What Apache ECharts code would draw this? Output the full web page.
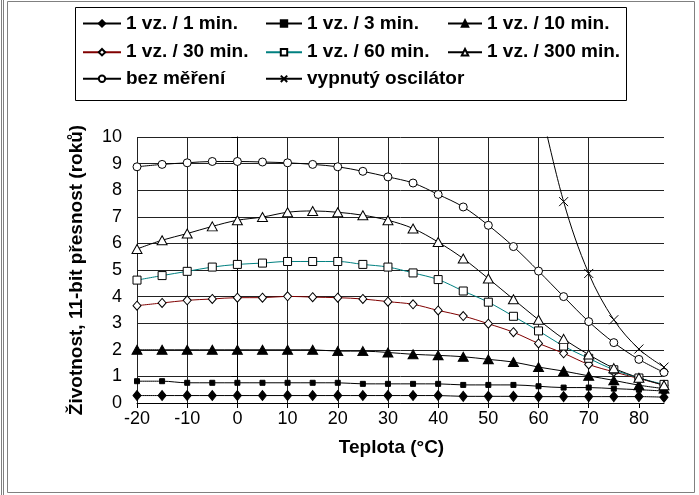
<!DOCTYPE html>
<html><head><meta charset="utf-8">
<script src="https://cdn.jsdelivr.net/npm/echarts@6/dist/echarts.min.js"></script>
<style>html,body{margin:0;padding:0;background:#fff}#c{width:699px;height:495px}</style>
</head><body><div id="c"></div>
<script>
// ---- data ----
const temps = [-20,-15,-10,-5,0,5,10,15,20,25,30,35,40,45,50,55,60,65,70,75,80,85];
const xTicks = [-20,-10,0,10,20,30,40,50,60,70,80];
const yTicks = [0,1,2,3,4,5,6,7,8,9,10];
const seriesNames = ['1 vz. / 1 min.','1 vz. / 3 min.','1 vz. / 10 min.','1 vz. / 30 min.','1 vz. / 60 min.','1 vz. / 300 min.','bez měření','vypnutý oscilátor'];
const v1min   = [0.28,0.28,0.28,0.28,0.28,0.28,0.28,0.28,0.28,0.28,0.28,0.28,0.28,0.25,0.25,0.25,0.24,0.24,0.24,0.24,0.24,0.22];
const v3min   = [0.82,0.82,0.76,0.76,0.76,0.76,0.76,0.76,0.76,0.72,0.72,0.72,0.72,0.68,0.68,0.68,0.63,0.58,0.58,0.54,0.50,0.45];
const v10min  = [2.0,2.0,2.0,2.0,2.0,2.0,2.0,2.0,1.95,1.95,1.9,1.83,1.79,1.74,1.64,1.54,1.35,1.2,1.02,0.85,0.67,0.54];
const v30min  = [3.66,3.76,3.86,3.91,3.96,3.96,4.01,3.98,3.96,3.91,3.81,3.71,3.48,3.27,2.98,2.66,2.24,1.87,1.45,1.17,0.92,0.67];
const v60min  = [4.62,4.79,4.95,5.11,5.21,5.26,5.32,5.32,5.32,5.21,5.11,4.89,4.64,4.21,3.79,3.26,2.71,2.14,1.68,1.25,0.94,0.70];
const v300min = [5.79,6.12,6.37,6.64,6.87,6.99,7.17,7.22,7.17,7.06,6.87,6.56,6.05,5.43,4.68,3.9,3.13,2.41,1.82,1.31,0.95,0.67];
const vBez    = [8.88,8.97,9.03,9.08,9.08,9.06,9.03,8.97,8.88,8.71,8.5,8.27,7.84,7.37,6.68,5.88,4.96,4.0,3.06,2.27,1.64,1.15];
const vVyp    = [null,null,null,null,null,null,null,null,null,null,null,null,null,null,null,null,11.5,7.57,4.87,3.13,2.03,1.35];

const FONT = '"Liberation Sans", Arial, sans-serif';
const pairs = arr => temps.map((t,i) => [t, arr[i]]);

function mkSeries(name, arr, symbol, size, lineColor, fill, z) {
  return {
    name, type:'line', data: pairs(arr), smooth: 0.35, symbol, symbolSize: size,
    showSymbol: true, clip: true, z: z,
    lineStyle: { color: lineColor, width: 1 },
    itemStyle: { color: fill, borderColor: '#000', borderWidth: 1 },
    emphasis: { disabled: true }, animation: false
  };
}
const xPath = 'path://M0,0L10,10M10,0L0,10';
const series = [
  mkSeries(seriesNames[0], v1min, 'diamond', [8,10], '#000', '#000', 2),
  mkSeries(seriesNames[1], v3min, 'rect', 5, '#000', '#000', 2),
  mkSeries(seriesNames[2], v10min, 'triangle', [10,9], '#000', '#000', 2),
  mkSeries(seriesNames[3], v30min, 'diamond', [8,9], '#800000', '#fff', 2),
  mkSeries(seriesNames[4], v60min, 'rect', 8, '#008080', '#fff', 2),
  mkSeries(seriesNames[5], v300min, 'triangle', [10,9], '#000', '#fff', 2),
  mkSeries(seriesNames[6], vBez, 'circle', 8, '#000', '#fff', 2),
  mkSeries(seriesNames[7], vVyp, xPath, 9, '#000', '#000', 2)
];

// legend item placement (icon left, row centre)
const legPos = [[82,24],[265,24],[447,24],[82,52.7],[265,52.7],[447,52.7],[82,79.3],[265,79.3]];
const legW = [38,36,34,38,36,34,38,36];
const legends = seriesNames.map((n,i) => ({
  data:[n], left: legPos[i][0], top: legPos[i][1]-10, padding: 0, itemWidth: legW[i], itemHeight: 8,
  selectedMode: false, orient:'horizontal',
  textStyle: { fontFamily: FONT, fontSize: 19, fontWeight: 'bold', color: '#000' }
}));

const gridCol = '#222';
const xSplitColors = xTicks.map(() => gridCol).concat(['rgba(0,0,0,0)']);

const chart = echarts.init(document.getElementById('c'), null, {renderer:'canvas'});
chart.setOption({
  animation: false,
  backgroundColor: '#fff',
  grid: { left: 137, right: 35, top: 137, bottom: 92, containLabel: false },
  legend: legends,
  xAxis: {
    type: 'value', min: xTicks[0], max: 85, interval: 10,
    name: 'Teplota (°C)', nameLocation: 'middle', nameGap: 35,
    nameTextStyle: { fontFamily: FONT, fontSize: 19, fontWeight: 'bold', color: '#000', padding: [0, 18, 0, 0] },
    axisLine: { show: true, onZero: false, lineStyle: { color: '#000', width: 1 } },
    axisTick: { show: true, length: 5, customValues: xTicks, lineStyle: { color: '#000' } },
    axisLabel: { customValues: xTicks, margin: 7, fontFamily: FONT, fontSize: 18, color: '#000',
      formatter: v => (xTicks.indexOf(v) >= 0 ? String(v) : '') },
    splitLine: { show: true, showMaxLine: false, lineStyle: { color: xSplitColors, width: 1 } }
  },
  yAxis: {
    type: 'value', min: yTicks[0], max: yTicks[yTicks.length-1], interval: 1,
    name: 'Životnost, 11-bit přesnost (roků)', nameLocation: 'middle', nameGap: 51, nameRotate: 90,
    nameTextStyle: { fontFamily: FONT, fontSize: 19, fontWeight: 'bold', color: '#000' },
    axisLine: { show: true, lineStyle: { color: '#000', width: 1 } },
    axisTick: { show: true, length: 6, lineStyle: { color: '#000' } },
    axisLabel: { margin: 15, fontFamily: FONT, fontSize: 18, color: '#000' },
    splitLine: { show: true, lineStyle: { color: gridCol, width: 1 } }
  },
  series,
  graphic: [
    { type:'rect', silent:true, z:0, shape:{x:7.5,y:1.5,width:687,height:491}, style:{fill:'none', stroke:'#808080', lineWidth:1} },
    { type:'line', silent:true, z:0, shape:{x1:1.5,y1:0,x2:1.5,y2:495}, style:{stroke:'#808080', lineWidth:1} },
    { type:'line', silent:true, z:0, shape:{x1:3.5,y1:0,x2:3.5,y2:495}, style:{stroke:'#808080', lineWidth:1} },
    { type:'rect', silent:true, z:0, shape:{x:75.5,y:7.5,width:551,height:93}, style:{fill:'none', stroke:'#000', lineWidth:1} }
  ]
});
</script></body></html>
